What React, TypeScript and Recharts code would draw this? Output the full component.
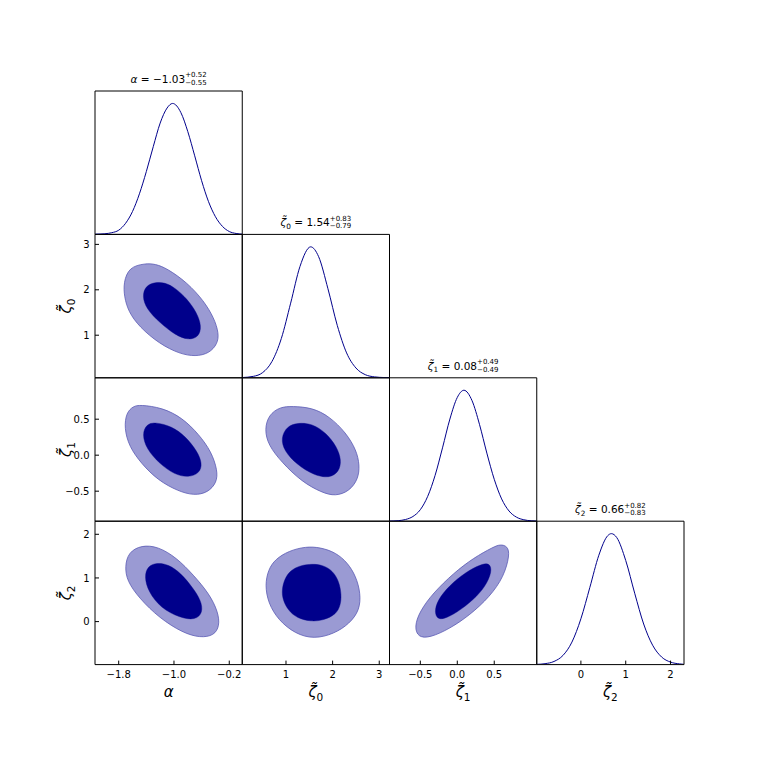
import React from 'react';
import { ComposedChart, XAxis, YAxis, Line, Scatter } from 'recharts';

type P = [number, number];

// ---------- tick values ----------
const alphaTicks = [-1.8, -1.0, -0.2];
const zeta0Ticks = [1, 2, 3];
const zeta1Ticks = [-0.5, 0.0, 0.5];
const zeta2Ticks = [0, 1, 2];

// ---------- 1D marginal densities (x, normalised density) ----------
const alphaPdf: P[] = [
  [-2.14, 0.002], [-2.0, 0.005], [-1.9, 0.013], [-1.8, 0.032], [-1.7, 0.085], [-1.6, 0.175],
  [-1.5, 0.31], [-1.4, 0.48], [-1.3, 0.67], [-1.2, 0.85], [-1.1, 0.965], [-1.02, 1.0],
  [-0.9, 0.93], [-0.8, 0.785], [-0.7, 0.6], [-0.6, 0.41], [-0.5, 0.25], [-0.4, 0.135],
  [-0.3, 0.062], [-0.2, 0.022], [-0.1, 0.007], [-0.012, 0.002],
];
const zeta0Pdf: P[] = [
  [0.064, 0.002], [0.3, 0.011], [0.5, 0.04], [0.7, 0.125], [0.9, 0.3], [1.1, 0.57],
  [1.3, 0.85], [1.53, 1.0], [1.7, 0.925], [1.9, 0.68], [2.1, 0.4], [2.3, 0.19],
  [2.5, 0.075], [2.7, 0.024], [2.9, 0.007], [3.1, 0.002], [3.21, 0.001],
];
const zeta1Pdf: P[] = [
  [-0.915, 0.001], [-0.8, 0.004], [-0.7, 0.013], [-0.6, 0.036], [-0.5, 0.088], [-0.4, 0.19],
  [-0.3, 0.35], [-0.2, 0.56], [-0.1, 0.78], [0.0, 0.945], [0.09, 1.0], [0.2, 0.92],
  [0.3, 0.74], [0.4, 0.52], [0.5, 0.32], [0.6, 0.17], [0.7, 0.078], [0.8, 0.031],
  [0.9, 0.011], [1.0, 0.003], [1.073, 0.001],
];
const zeta2Pdf: P[] = [
  [-0.983, 0.002], [-0.8, 0.007], [-0.6, 0.024], [-0.4, 0.07], [-0.2, 0.172], [0.0, 0.35],
  [0.2, 0.59], [0.4, 0.835], [0.6, 0.985], [0.68, 1.0], [0.8, 0.97], [1.0, 0.795],
  [1.2, 0.545], [1.4, 0.31], [1.6, 0.148], [1.8, 0.058], [2.0, 0.019], [2.2, 0.0055],
  [2.298, 0.002],
];

// ---------- 2D credible contours (outer = 95%, inner = 68%) ----------
const alphaZeta0Outer: P[] = [
  [-1.42, 2.58], [-1.27, 2.57], [-1.10, 2.47], [-0.81, 2.16], [-0.57, 1.76], [-0.42, 1.38],
  [-0.35, 1.04], [-0.37, 0.81], [-0.49, 0.60], [-0.69, 0.53], [-0.92, 0.59], [-1.21, 0.81],
  [-1.50, 1.18], [-1.66, 1.52], [-1.72, 1.85], [-1.73, 2.16], [-1.65, 2.50],
];
const alphaZeta0Inner: P[] = [
  [-1.27, 2.17], [-1.13, 2.16], [-0.98, 2.04], [-0.81, 1.80], [-0.67, 1.50], [-0.60, 1.20],
  [-0.64, 0.96], [-0.79, 0.89], [-0.98, 1.00], [-1.21, 1.28], [-1.40, 1.58], [-1.46, 1.86],
  [-1.41, 2.09],
];
const alphaZeta1Outer: P[] = [
  [-1.49, 0.70], [-1.17, 0.66], [-0.88, 0.52], [-0.64, 0.29], [-0.46, 0.05], [-0.37, -0.21],
  [-0.38, -0.38], [-0.51, -0.52], [-0.71, -0.56], [-0.94, -0.50], [-1.23, -0.35], [-1.47, -0.12],
  [-1.65, 0.12], [-1.72, 0.38], [-1.69, 0.59], [-1.59, 0.68],
];
const alphaZeta1Inner: P[] = [
  [-1.27, 0.46], [-1.03, 0.40], [-0.83, 0.26], [-0.66, 0.05], [-0.59, -0.12], [-0.63, -0.25],
  [-0.79, -0.31], [-0.99, -0.27], [-1.21, -0.12], [-1.40, 0.09], [-1.46, 0.29], [-1.40, 0.43],
];
const zeta0Zeta1Outer: P[] = [
  [1.14, 0.68], [1.56, 0.66], [1.93, 0.54], [2.29, 0.31], [2.51, 0.07], [2.58, -0.14],
  [2.55, -0.33], [2.36, -0.50], [2.06, -0.57], [1.77, -0.52], [1.34, -0.37], [0.91, -0.10],
  [0.62, 0.14], [0.54, 0.36], [0.63, 0.56], [0.87, 0.67],
];
const zeta0Zeta1Inner: P[] = [
  [1.24, 0.45], [1.56, 0.44], [1.86, 0.31], [2.09, 0.12], [2.19, -0.07], [2.14, -0.23],
  [1.93, -0.32], [1.60, -0.28], [1.23, -0.13], [0.96, 0.06], [0.89, 0.24], [1.02, 0.40],
];
const alphaZeta2Outer: P[] = [
  [-1.47, 1.75], [-1.23, 1.72], [-0.96, 1.46], [-0.72, 1.07], [-0.49, 0.64], [-0.36, 0.22],
  [-0.34, -0.10], [-0.42, -0.32], [-0.62, -0.37], [-0.87, -0.26], [-1.21, 0.08], [-1.50, 0.53],
  [-1.68, 0.93], [-1.71, 1.26], [-1.66, 1.59],
];
const alphaZeta2Inner: P[] = [
  [-1.25, 1.35], [-1.08, 1.31], [-0.90, 1.11], [-0.73, 0.78], [-0.61, 0.49], [-0.58, 0.21],
  [-0.69, 0.03], [-0.92, 0.09], [-1.19, 0.31], [-1.37, 0.68], [-1.43, 1.03], [-1.38, 1.27],
];
const zeta0Zeta2Outer: P[] = [
  [1.42, 1.72], [1.74, 1.70], [2.07, 1.58], [2.32, 1.35], [2.50, 1.04], [2.60, 0.65],
  [2.58, 0.26], [2.36, -0.05], [2.03, -0.28], [1.60, -0.40], [1.20, -0.28], [0.84, 0.03],
  [0.62, 0.42], [0.55, 0.84], [0.62, 1.19], [0.77, 1.43], [1.06, 1.62],
];
const zeta0Zeta2Inner: P[] = [
  [1.56, 1.32], [1.78, 1.30], [2.00, 1.17], [2.14, 0.92], [2.19, 0.61], [2.17, 0.38],
  [2.08, 0.17], [1.81, 0.03], [1.53, 0.00], [1.24, 0.08], [1.05, 0.25], [0.93, 0.50],
  [0.91, 0.73], [0.97, 0.98], [1.09, 1.17], [1.31, 1.29],
];
const zeta1Zeta2Outer: P[] = [
  [0.58, 1.77], [0.68, 1.73], [0.71, 1.53], [0.63, 1.03], [0.44, 0.57], [0.17, 0.15],
  [-0.10, -0.16], [-0.37, -0.37], [-0.53, -0.36], [-0.58, -0.12], [-0.51, 0.23], [-0.33, 0.65],
  [-0.05, 1.11], [0.22, 1.46], [0.49, 1.71],
];
const zeta1Zeta2Inner: P[] = [
  [0.44, 1.33], [0.47, 1.15], [0.38, 0.80], [0.22, 0.50], [-0.01, 0.20], [-0.19, 0.05],
  [-0.28, 0.07], [-0.31, 0.27], [-0.24, 0.57], [-0.05, 0.92], [0.17, 1.19], [0.35, 1.33],
];

// ---------- titles ----------
const titleValues = ['\u22121.03', '1.54', '0.08', '0.66'];
const titlePlus = ['+0.52', '+0.83', '+0.49', '+0.82'];
const titleMinus = ['\u22120.55', '\u22120.79', '\u22120.49', '\u22120.83'];

// ---------- layout / style ----------
const W = 760;
const H = 760;
const COLS = [95, 242.25, 389.5, 536.75, 684];
const ROWS = [91, 234.4, 377.8, 521.2, 664.6];
const FONT = '"DejaVu Sans", sans-serif';
const DARK = '#00008B';
const LIGHT = '#9a9ad3';
const EDGE = '#5a5ab4';
const PDF_MAX = 1.095;

const fmt = (digits: number) => (v: number) =>
  (v < 0 ? '\u2212' : '') + Math.abs(v).toFixed(digits);

const VARS = [
  { domain: [-2.143, -0.012], ticks: alphaTicks, fmt: fmt(1), pdf: alphaPdf },
  { domain: [0.062, 3.22], ticks: zeta0Ticks, fmt: fmt(0), pdf: zeta0Pdf },
  { domain: [-0.917, 1.075], ticks: zeta1Ticks, fmt: fmt(1), pdf: zeta1Pdf },
  { domain: [-0.985, 2.3], ticks: zeta2Ticks, fmt: fmt(0), pdf: zeta2Pdf },
];

const PAIRS: { r: number; c: number; outer: P[]; inner: P[] }[] = [
  { r: 1, c: 0, outer: alphaZeta0Outer, inner: alphaZeta0Inner },
  { r: 2, c: 0, outer: alphaZeta1Outer, inner: alphaZeta1Inner },
  { r: 2, c: 1, outer: zeta0Zeta1Outer, inner: zeta0Zeta1Inner },
  { r: 3, c: 0, outer: alphaZeta2Outer, inner: alphaZeta2Inner },
  { r: 3, c: 1, outer: zeta0Zeta2Outer, inner: zeta0Zeta2Inner },
  { r: 3, c: 2, outer: zeta1Zeta2Outer, inner: zeta1Zeta2Inner },
];

const toXY = (pts: P[]) => pts.map(([x, y]) => ({ x, y }));

const marginFor = (r: number, c: number) => ({
  top: ROWS[r],
  bottom: H - ROWS[r + 1],
  left: COLS[c],
  right: W - COLS[c + 1],
});

// closed uniform cubic B-spline through the scaled contour vertices
function closedPath(pts: { x: number; y: number }[]) {
  const n = pts.length;
  if (n < 3) return '';
  const at = (i: number) => pts[((i % n) + n) % n];
  const knot = (i: number) => {
    const a = at(i - 1), b = at(i), c = at(i + 1);
    return [(a.x + 4 * b.x + c.x) / 6, (a.y + 4 * b.y + c.y) / 6];
  };
  const s = knot(0);
  let d = `M${s[0]},${s[1]}`;
  for (let i = 0; i < n; i++) {
    const b = at(i), c = at(i + 1);
    const e = knot(i + 1);
    d += `C${(2 * b.x + c.x) / 3},${(2 * b.y + c.y) / 3} ${(b.x + 2 * c.x) / 3},${(b.y + 2 * c.y) / 3} ${e[0]},${e[1]}`;
  }
  return d + 'Z';
}

const contourLine = (fill: string, stroke: string, sw: number) => (p: any) => (
  <path d={closedPath(p.points || [])} fill={fill} stroke={stroke} strokeWidth={sw} />
);

const noDot = () => <g />;

const bottomTick = (f: (v: number) => string, y: number) => (props: any) => (
  <text x={props.x} y={y} textAnchor="middle" fontSize={10} fontFamily={FONT} fill="#000">
    {f(props.payload.value)}
  </text>
);

const leftTick = (f: (v: number) => string, x: number) => (props: any) => (
  <text x={x} y={props.y + 3.6} textAnchor="end" fontSize={10} fontFamily={FONT} fill="#000">
    {f(props.payload.value)}
  </text>
);

const axisCommon = {
  mirror: true,
  type: 'number' as const,
  allowDataOverflow: true,
  interval: 0 as const,
  stroke: '#000',
  tickSize: 4,
};

const layer: React.CSSProperties = { position: 'absolute', left: 0, top: 0 };

function Panel2D({ r, c, outer, inner }: { r: number; c: number; outer: P[]; inner: P[] }) {
  const xv = VARS[c];
  const yv = VARS[r];
  return (
    <div style={layer}>
      <ComposedChart width={W} height={H} margin={marginFor(r, c)}>
        <XAxis
          {...axisCommon}
          xAxisId="b"
          orientation="bottom"
          dataKey="x"
          domain={xv.domain}
          ticks={xv.ticks}
          tick={r === 3 ? bottomTick(xv.fmt, ROWS[4] + 13.2) : false}
        />
        <XAxis {...axisCommon} xAxisId="t" orientation="top" domain={xv.domain} ticks={xv.ticks} tick={false} />
        <YAxis
          {...axisCommon}
          yAxisId="l"
          orientation="left"
          dataKey="y"
          domain={yv.domain}
          ticks={yv.ticks}
          tick={c === 0 ? leftTick(yv.fmt, COLS[0] - 5.5) : false}
        />
        <YAxis {...axisCommon} yAxisId="r" orientation="right" domain={yv.domain} ticks={yv.ticks} tick={false} />
        <Scatter
          xAxisId="b"
          yAxisId="l"
          data={toXY(outer)}
          line={contourLine(LIGHT, EDGE, 0.8)}
          shape={noDot}
          isAnimationActive={false}
        />
        <Scatter
          xAxisId="b"
          yAxisId="l"
          data={toXY(inner)}
          line={contourLine(DARK, DARK, 0.4)}
          shape={noDot}
          isAnimationActive={false}
        />
      </ComposedChart>
    </div>
  );
}

function Panel1D({ i }: { i: number }) {
  const v = VARS[i];
  return (
    <div style={layer}>
      <ComposedChart width={W} height={H} margin={marginFor(i, i)}>
        <XAxis
          {...axisCommon}
          xAxisId="b"
          orientation="bottom"
          dataKey="x"
          domain={v.domain}
          ticks={v.ticks}
          tick={i === 3 ? bottomTick(v.fmt, ROWS[4] + 13.2) : false}
        />
        <XAxis {...axisCommon} xAxisId="t" orientation="top" domain={v.domain} tick={false} tickLine={false} />
        <YAxis {...axisCommon} yAxisId="l" orientation="left" dataKey="y" domain={[0, PDF_MAX]} tick={false} tickLine={false} />
        <YAxis {...axisCommon} yAxisId="r" orientation="right" domain={[0, PDF_MAX]} tick={false} tickLine={false} />
        <Line
          xAxisId="b"
          yAxisId="l"
          data={toXY(v.pdf)}
          dataKey="y"
          type="monotone"
          stroke={DARK}
          strokeWidth={1}
          dot={false}
          activeDot={false}
          isAnimationActive={false}
        />
      </ComposedChart>
    </div>
  );
}

// symbol + optional lowered index
function symParts(i: number, size: number) {
  if (i === 0) return [<tspan key="s" fontStyle="italic">{'\u03B1'}</tspan>];
  return [
    <tspan key="s" fontStyle="italic">{'\u03B6\u0303'}</tspan>,
    <tspan key="i" fontSize={size * 0.7} dy={size * 0.25}>{String(i - 1)}</tspan>,
  ];
}

function Overlay() {
  const supW = 3.064 * 7;
  return (
    <svg width={W} height={H} style={{ ...layer, pointerEvents: 'none' }}>
      {[0, 1, 2, 3].map((i) => {
        const cx = (COLS[i] + COLS[i + 1]) / 2;
        return (
          <text key={`t${i}`} x={cx} y={ROWS[i] - 8.3} textAnchor="middle" fontFamily={FONT} fontSize={10.5} fill="#000">
            {symParts(i, 10.5)}
            <tspan dy={i === 0 ? 0 : -10.5 * 0.25}>{' = ' + titleValues[i]}</tspan>
            <tspan fontSize={7} dy={-5.4}>{titlePlus[i]}</tspan>
            <tspan fontSize={7} dx={-supW} dy={7.7}>{titleMinus[i]}</tspan>
          </text>
        );
      })}
      {[0, 1, 2, 3].map((i) => {
        const cx = (COLS[i] + COLS[i + 1]) / 2;
        return (
          <text key={`x${i}`} x={cx} y={697} textAnchor="middle" fontFamily={FONT} fontSize={15} fill="#000">
            {symParts(i, 15)}
          </text>
        );
      })}
      {[1, 2, 3].map((i) => {
        const cy = (ROWS[i] + ROWS[i + 1]) / 2;
        return (
          <text
            key={`y${i}`}
            transform={`translate(71, ${cy}) rotate(-90)`}
            x={0}
            y={0}
            textAnchor="middle"
            fontFamily={FONT}
            fontSize={15}
            fill="#000"
          >
            {symParts(i, 15)}
          </text>
        );
      })}
    </svg>
  );
}

export default function App() {
  return (
    <div style={{ position: 'absolute', left: 0, top: 0, width: W, height: H, background: '#fff' }}>
      {PAIRS.map((p) => (
        <Panel2D key={`${p.r}-${p.c}`} r={p.r} c={p.c} outer={p.outer} inner={p.inner} />
      ))}
      {[0, 1, 2, 3].map((i) => (
        <Panel1D key={`d${i}`} i={i} />
      ))}
      <Overlay />
    </div>
  );
}
